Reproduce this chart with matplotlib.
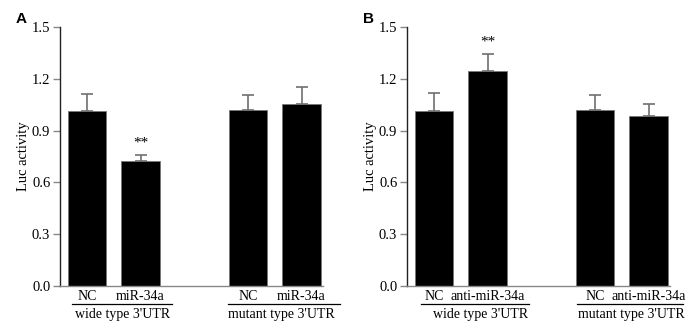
import matplotlib
matplotlib.use("Agg")
import matplotlib.pyplot as plt
import numpy as np

# Data
groups = ["wide type 3'UTR", "mutant type 3'UTR"]
labels_a = ["NC", "miR-34a", "NC", "miR-34a"]
values_a = [1.013, 0.726, 1.017, 1.056]
errors_a = [0.101, 0.031, 0.087, 0.095]
labels_b = ["NC", "anti-miR-34a", "NC", "anti-miR-34a"]
values_b = [1.013, 1.247, 1.021, 0.983]
errors_b = [0.105, 0.095, 0.086, 0.073]
sig_a = ["", "**", "", ""]
sig_b = ["", "**", "", ""]
yticks = [0.0, 0.3, 0.6, 0.9, 1.2, 1.5]
panel_letters = ["A", "B"]

positions = [0, 1, 3, 4]

fig = plt.figure(figsize=(6.98, 3.35), dpi=100)
serif = ["Liberation Serif", "DejaVu Serif"]

def draw(ax, labels, values, errors, sig, letter, lines, group_centers):
    ax.bar(positions, values, width=0.72, color="black", edgecolor="#777777",
           linewidth=0.6, zorder=2)
    ax.errorbar(positions, values, yerr=[np.zeros(len(errors)), errors], fmt="none",
                ecolor="#6f6f6f", elinewidth=1.2, capsize=4.5, capthick=1.2, zorder=1)
    for p, v, e, s in zip(positions, values, errors, sig):
        if s:
            ax.text(p, v + e + 0.035, s, ha="center", va="bottom", fontsize=11,
                    family=serif, color="black")
    ax.set_xlim(-0.5, 4.4)
    ax.set_ylim(0, 1.5)
    ax.set_yticks(yticks)
    ax.set_yticklabels([f"{t:.1f}" for t in yticks], family=serif, fontsize=10.5)
    ax.set_xticks([])
    ax.spines["top"].set_visible(False)
    ax.spines["right"].set_visible(False)
    ax.spines["left"].set_color("#222222")
    ax.spines["bottom"].set_color("#888888")
    ax.spines["left"].set_linewidth(1.0)
    ax.spines["bottom"].set_linewidth(1.0)
    ax.tick_params(axis="y", direction="out", length=5, width=1, color="#888888", pad=2)
    ax.set_ylabel("Luc activity", family=serif, fontsize=10.5, labelpad=1)
    trans = ax.get_xaxis_transform()
    for p, l in zip(positions, labels):
        ax.text(p, -0.04, l, transform=trans, ha="center", va="center",
                family=serif, fontsize=10)
    for (x0, x1), g, gc in zip(lines, groups, group_centers):
        ax.plot([x0, x1], [-0.07, -0.07], transform=trans, color="black",
                linewidth=0.9, clip_on=False)
        ax.text(gc, -0.11, g, transform=trans, ha="center", va="center",
                family=serif, fontsize=10)
    ax.text(-0.148, 1.03, letter, transform=ax.transAxes, ha="center", va="center",
            fontsize=11, fontweight="bold", family=["Liberation Sans", "DejaVu Sans"])

ax1 = fig.add_axes([60/698, 49/335, 263/698, 259/335])
draw(ax1, labels_a, values_a, errors_a, sig_a, panel_letters[0],
     [(-0.27, 1.58), (2.63, 4.72)], [0.66, 3.63])
ax2 = fig.add_axes([407/698, 49/335, 263/698, 259/335])
draw(ax2, labels_b, values_b, errors_b, sig_b, panel_letters[1],
     [(-0.23, 1.77), (2.66, 4.64)], [0.87, 3.68])

fig.savefig("out.png", dpi=100)
